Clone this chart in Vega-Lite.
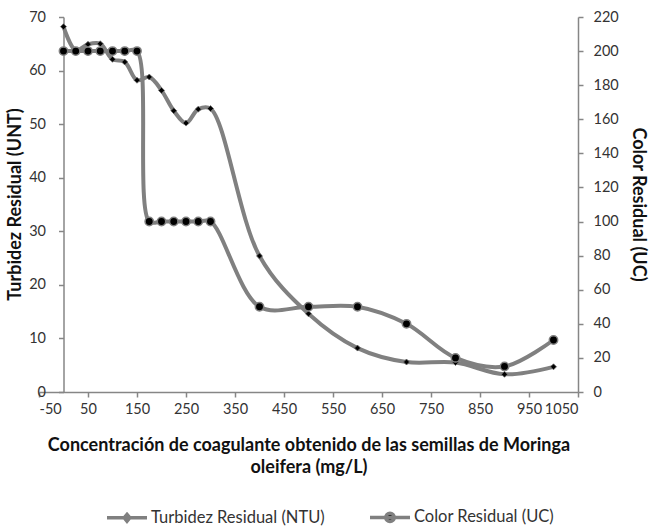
{
  "$schema": "https://vega.github.io/schema/vega-lite/v6.json",
  "width": 539,
  "height": 375,
  "autosize": {"type": "none"},
  "padding": {"left": 39, "top": 17, "right": 71, "bottom": 138},
  "config": {
    "font": "Lato",
    "view": {"stroke": null},
    "axis": {
      "grid": false,
      "domainColor": "#868686",
      "domainWidth": 1.5,
      "tickColor": "#868686",
      "tickWidth": 1.5,
      "tickSize": 5,
      "labelColor": "#333333",
      "labelFontSize": 14.5,
      "titleFontSize": 18,
      "titleFontWeight": "bold",
      "titleColor": "#111111"
    },
    "legend": {
      "title": null,
      "orient": "none",
      "direction": "horizontal",
      "legendX": 66,
      "legendY": 478,
      "symbolSize": 1600,
      "symbolStrokeWidth": 3.5,
      "labelFontSize": 16.5,
      "labelLimit": 400,
      "labelColor": "#333333",
      "labelOffset": 2,
      "columnPadding": 38
    }
  },
  "data": {
    "values": [
      {"conc": 0, "turb": 68.2, "color": 200},
      {"conc": 25, "turb": 63.8, "color": 200},
      {"conc": 50, "turb": 64.9, "color": 200},
      {"conc": 75, "turb": 65.0, "color": 200},
      {"conc": 100, "turb": 62.1, "color": 200},
      {"conc": 125, "turb": 61.6, "color": 200},
      {"conc": 150, "turb": 58.2, "color": 200},
      {"conc": 175, "turb": 58.8, "color": 100},
      {"conc": 200, "turb": 56.3, "color": 100},
      {"conc": 225, "turb": 52.5, "color": 100},
      {"conc": 250, "turb": 50.2, "color": 100},
      {"conc": 275, "turb": 52.8, "color": 100},
      {"conc": 300, "turb": 52.9, "color": 100},
      {"conc": 400, "turb": 25.4, "color": 50},
      {"conc": 500, "turb": 14.6, "color": 50},
      {"conc": 600, "turb": 8.2, "color": 50},
      {"conc": 700, "turb": 5.6, "color": 40},
      {"conc": 800, "turb": 5.5, "color": 20},
      {"conc": 900, "turb": 3.3, "color": 15},
      {"conc": 1000, "turb": 4.7, "color": 30.5}
    ]
  },
  "encoding": {
    "x": {
      "field": "conc",
      "type": "quantitative",
      "scale": {"domain": [-50, 1050], "nice": false, "zero": false},
      "axis": {
        "values": [-50, 50, 150, 250, 350, 450, 550, 650, 750, 850, 950, 1050],
        "labelExpr": "'' + datum.value",
        "labelPadding": 5,
        "titlePadding": 21,
        "titleLineHeight": 22,
        "title": ["Concentración de  coagulante obtenido de las semillas de Moringa", "oleifera (mg/L)"]
      }
    }
  },
  "layer": [
    {
      "encoding": {
        "y": {
          "field": "turb",
          "type": "quantitative",
          "scale": {"domain": [0, 70], "nice": false},
          "axis": {
            "orient": "left",
            "offset": -24.5,
            "values": [0, 10, 20, 30, 40, 50, 60, 70],
            "labelPadding": 13,
            "title": "Turbidez Residual (UNT)",
            "titleX": -48,
            "titleY": 187,
            "titleAngle": -90,
            "titleAlign": "center",
            "titleBaseline": "middle"
          }
        }
      },
      "layer": [
        {
          "mark": {"type": "line", "interpolate": "catmull-rom", "stroke": "#808080", "strokeWidth": 4}
        },
        {
          "mark": {"type": "point", "shape": "diamond", "filled": true, "fill": "black", "stroke": "#707070", "strokeWidth": 0.8, "size": 36, "opacity": 1}
        },
        {
          "transform": [{"filter": {"field": "conc", "lt": -1000}}],
          "mark": {"type": "point", "filled": false, "fill": "black", "stroke": "#808080", "strokeWidth": 3.5, "opacity": 1},
          "encoding": {
            "shape": {
              "field": "serie",
              "type": "nominal",
              "scale": {
                "domain": ["Turbidez Residual (NTU)", "Color Residual (UC)"],
                "range": ["M-1,0L1,0M0,-0.17L0.14,0L0,0.17L-0.14,0Z", "M-1,0L1,0M-0.21,0A0.21,0.21 0 1,0 0.21,0A0.21,0.21 0 1,0 -0.21,0Z"]
              },
              "legend": {"title": null}
            }
          }
        }
      ]
    },
    {
      "encoding": {
        "y": {
          "field": "color",
          "type": "quantitative",
          "scale": {"domain": [0, 220], "nice": false},
          "axis": {
            "orient": "right",
            "values": [0, 20, 40, 60, 80, 100, 120, 140, 160, 180, 200, 220],
            "labelPadding": 10,
            "title": "Color Residual (UC)",
            "titleX": 59,
            "titleY": 187,
            "titleAngle": 90,
            "titleAlign": "center",
            "titleBaseline": "middle"
          }
        }
      },
      "layer": [
        {
          "mark": {"type": "line", "interpolate": "catmull-rom", "stroke": "#808080", "strokeWidth": 4}
        },
        {
          "mark": {"type": "point", "shape": "circle", "filled": true, "fill": "black", "stroke": "#808080", "strokeWidth": 1.5, "size": 70, "opacity": 1}
        }
      ]
    }
  ],
  "resolve": {"scale": {"y": "independent"}}
}
